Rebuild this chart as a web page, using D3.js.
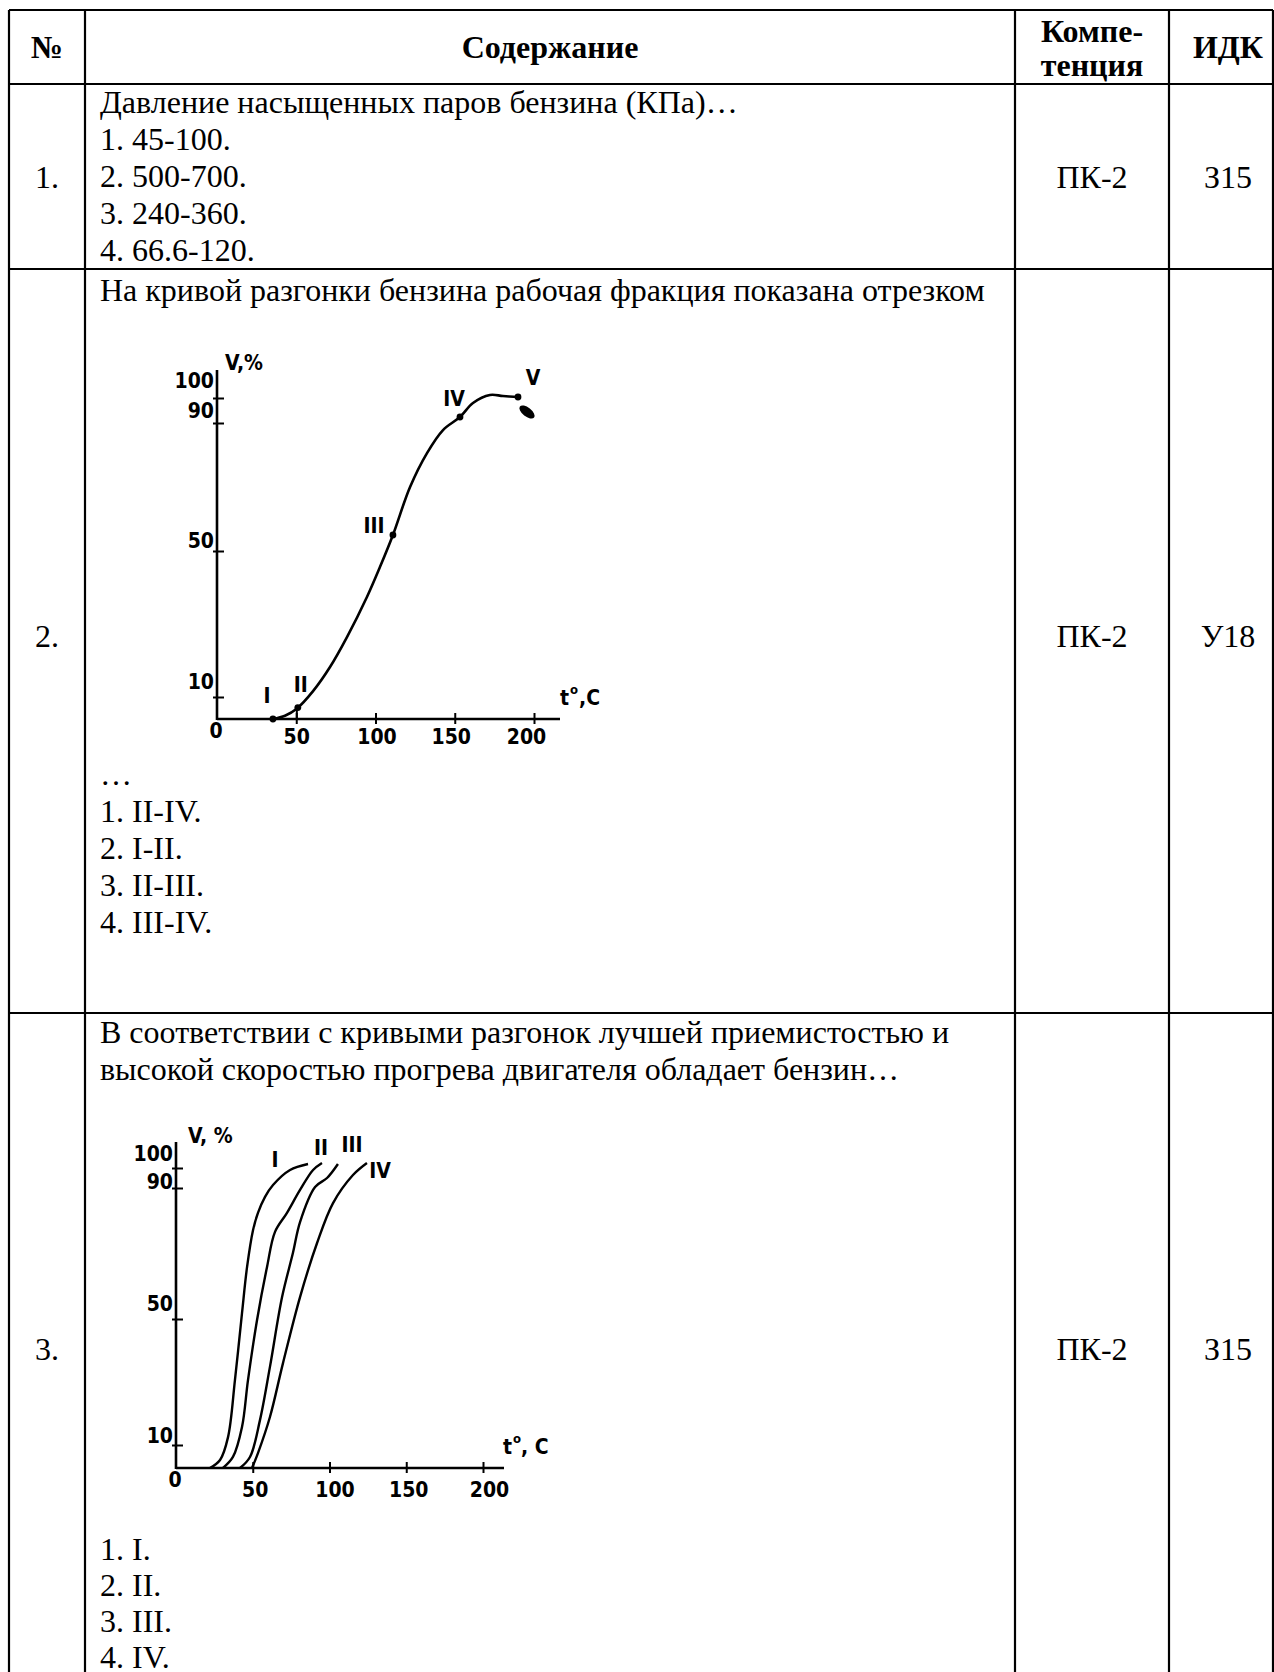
<!DOCTYPE html>
<html lang="ru">
<head>
<meta charset="utf-8">
<title>Тестовые задания</title>
<script src="https://cdn.jsdelivr.net/npm/d3@7"></script>
<style>
  body { margin: 0; background: #fff; }
  svg { display: block; }
  .txt { font-family: 'Liberation Serif', 'Times New Roman', serif; font-size: 32px; fill: #000; }
  .hdr { font-weight: bold; }
  .fig text { font-family: 'DejaVu Sans', sans-serif; font-stretch: condensed; font-weight: bold; font-size: 21px; fill: #000; }
</style>
</head>
<body>
<script>
// ---- table content ----
const headerTitles = ['№', 'Содержание', 'Компе-|тенция', 'ИДК'];
const rowNumbers = ['1.', '2.', '3.'];
const competences = ['ПК-2', 'ПК-2', 'ПК-2'];
const idkCodes = ['З15', 'У18', 'З15'];

const q1Lines = ['Давление насыщенных паров бензина (КПа)…', '1. 45-100.', '2. 500-700.', '3. 240-360.', '4. 66.6-120.'];
const q2Intro = ['На кривой разгонки бензина рабочая фракция показана отрезком'];
const q2Options = ['…', '1. II-IV.', '2. I-II.', '3. II-III.', '4. III-IV.'];
const q3Intro = ['В соответствии с кривыми разгонок лучшей приемистостью и', 'высокой скоростью прогрева двигателя обладает бензин…'];
const q3Options = ['1. I.', '2. II.', '3. III.', '4. IV.'];

// ---- chart data: [t, °C ; V, %] ----
const xTickValues = [50, 100, 150, 200];
const yTickValues = [10, 50, 90, 100];

const distCurve = [[35.3, 0], [42.9, 1.5], [50.5, 4.8], [60.6, 11.6], [71.3, 18.2], [82.0, 26.4],
  [94.6, 37.4], [102.8, 45.6], [111.0, 55], [121.8, 70], [132.5, 80.6], [142.6, 87.8], [153.3, 92.4],
  [161.5, 98], [172.2, 101.2], [180.4, 100.8], [189.9, 100.4]];
const distPointNames = ['I', 'II', 'III', 'IV', 'V'];
const distPoints = [[35.3, 0], [51, 5.2], [111, 55], [153.3, 92.4], [189.9, 100.4]];

const curveI = [[22.1, 0], [28.7, 3.5], [33.9, 12.5], [38.4, 30.6], [43.0, 51.8], [46.3, 65.9], [50.2, 77.2],
  [53.4, 82.4], [58.0, 87.3], [63.2, 91.5], [74.3, 99], [86.0, 102]];
const curveII = [[30.6, 0], [37.1, 4.8], [43.0, 15.7], [46.9, 30.6], [52.8, 49.7], [59.3, 65.9], [64.5, 76.6],
  [72.3, 82.4], [80.8, 89.4], [89.3, 99], [95.1, 102.5]];
const curveIII = [[41.7, 0], [48.2, 4.8], [54.7, 17.9], [61.2, 34.8], [69.1, 56.7], [76.2, 70.2], [80.8, 79.6],
  [90.6, 90.5], [98.4, 95], [105.5, 102]];
const curveIV = [[49.5, 0], [53.4, 6.5], [61.2, 18.9], [69.7, 36], [80.8, 56.7], [91.9, 73.2], [102.3, 85.4],
  [115.3, 96.5], [124.4, 102.5]];
const gasolineNames = ['I', 'II', 'III', 'IV'];

// ---- page ----
const W = 1274, H = 1672;
const svg = d3.select('body').append('svg').attr('width', W).attr('height', H);
svg.append('rect').attr('width', W).attr('height', H).attr('fill', '#fff');

const colX = [9, 85, 1015, 1169, 1273];
const rowY = [10, 84, 269, 1013];
const colMid = [47, 550, 1092, 1228];
const textX = 100;
const lh = 37;

function lines(arr, x, y0, step, cls, anchor) {
  svg.append('g').selectAll('text').data(arr).join('text')
    .attr('class', cls).attr('x', x).attr('y', (d, i) => y0 + i * step)
    .attr('text-anchor', anchor || 'start').text(d => d);
}

// header
headerTitles.forEach((t, i) => {
  const parts = t.split('|');
  if (parts.length > 1) lines(parts, colMid[i], 42, 34, 'txt hdr', 'middle');
  else lines([t], colMid[i], 58, 0, 'txt hdr', 'middle');
});

// row cells
const rowBase = [188, 647, 1360];
rowNumbers.forEach((n, i) => {
  lines([n], colMid[0], rowBase[i], 0, 'txt', 'middle');
  lines([competences[i]], colMid[2], rowBase[i], 0, 'txt', 'middle');
  lines([idkCodes[i]], colMid[3], rowBase[i], 0, 'txt', 'middle');
});

lines(q1Lines, textX, 113, lh, 'txt');
lines(q2Intro, textX, 301, lh, 'txt');
lines(q2Options, textX, 785, lh, 'txt');
lines(q3Intro, textX, 1043, lh, 'txt');
lines(q3Options, textX, 1560, 36, 'txt');

// grid
const grid = svg.append('g').attr('stroke', '#000').attr('stroke-width', 2.2);
grid.selectAll('.h').data(rowY).join('line')
  .attr('x1', colX[0]).attr('x2', colX[4]).attr('y1', d => d).attr('y2', d => d);
grid.selectAll('.v').data(colX).join('line')
  .attr('x1', d => d).attr('x2', d => d).attr('y1', rowY[0]).attr('y2', H);

// ---- charts ----
function axes(g, x, y, o) {
  const x0 = x(0), y0 = y(0);
  g.append('line').attr('x1', x0).attr('x2', x.range()[1] + o.xExt).attr('y1', y0).attr('y2', y0)
    .attr('stroke', '#000').attr('stroke-width', 2.6);
  g.append('line').attr('x1', x0).attr('x2', x0).attr('y1', y0 + 1).attr('y2', y(100) - o.yExt)
    .attr('stroke', '#000').attr('stroke-width', 2.6);

  const gx = g.append('g').attr('transform', `translate(0,${y0})`)
    .call(d3.axisBottom(x).tickValues(xTickValues).tickSize(0).tickFormat(d3.format('d')));
  gx.select('.domain').remove();
  gx.selectAll('.tick line').attr('y1', -6).attr('y2', 5).attr('stroke-width', 2);
  gx.selectAll('.tick text').attr('dy', null).attr('y', o.xLab).attr('dx', (d, i) => o.xLabDx[i]);

  const gy = g.append('g').attr('transform', `translate(${x0},0)`)
    .call(d3.axisLeft(y).tickValues(yTickValues).tickSize(0));
  gy.select('.domain').remove();
  gy.selectAll('.tick line').attr('x1', -4).attr('x2', 7).attr('stroke-width', 2);
  gy.selectAll('.tick text').attr('dy', null).attr('x', -3).attr('y', (d, i) => o.yLab[i]);

  g.append('text').attr('x', x0 - 1).attr('y', y0 + 19).attr('text-anchor', 'middle').text('0');
  g.append('text').attr('x', x0 + o.vDx).attr('y', y(100) - o.yExt + o.vDy).text(o.vText);
  const tc = g.append('text').attr('x', x(200) + o.tDx).attr('y', y0 - 14);
  tc.append('tspan').text('t');
  tc.append('tspan').attr('dy', -11).attr('dx', 1).style('font-size', '13px').text('o');
  tc.append('tspan').attr('dy', 11).attr('dx', o.cDx).text(o.cText);
}

const line = (x, y) => d3.line().x(d => x(d[0])).y(d => y(d[1])).curve(d3.curveCatmullRom.alpha(0.5));

// chart in question 2
{
  const x = d3.scaleLinear().domain([0, 200]).range([217, 534]);
  const y = d3.scaleLinear().domain([0, ...yTickValues]).range([719, 697, 551, 423, 398]);
  const g = svg.append('g').attr('class', 'fig');
  axes(g, x, y, { xExt: 26, yExt: 28, xLab: 25, xLabDx: [0, 1, -4, -8], yLab: [-9, -4, -6, -11],
    vDx: 8, vDy: 0, vText: 'V,%', tDx: 26, cDx: 1, cText: ',C' });

  g.append('path').datum(distCurve).attr('d', line(x, y))
    .attr('fill', 'none').attr('stroke', '#000').attr('stroke-width', 2.6).attr('stroke-linejoin', 'round');

  const ii = distPoints[1];
  g.append('line').attr('x1', x(ii[0]) - 1).attr('x2', x(ii[0]) - 1).attr('y1', y(0)).attr('y2', y(ii[1]))
    .attr('stroke', '#000').attr('stroke-width', 2);
  g.selectAll('circle').data(distPoints).join('circle')
    .attr('cx', d => x(d[0])).attr('cy', d => y(d[1])).attr('r', 3.4).attr('fill', '#000');

  const off = [[-6, -16], [3, -16], [-19, -2], [-6, -11], [15, -12]];
  g.selectAll('.pl').data(distPoints).join('text')
    .attr('x', (d, i) => x(d[0]) + off[i][0]).attr('y', (d, i) => y(d[1]) + off[i][1])
    .attr('text-anchor', 'middle').text((d, i) => distPointNames[i]);

  const v = distPoints[4];
  g.append('ellipse').attr('cx', 0).attr('cy', 0).attr('rx', 9).attr('ry', 4.5)
    .attr('transform', `translate(${x(v[0]) + 9},${y(v[1]) + 15}) rotate(38)`).attr('fill', '#000');
}

// chart in question 3
{
  const x = d3.scaleLinear().domain([0, 200]).range([176, 483]);
  const y = d3.scaleLinear().domain([0, ...yTickValues]).range([1468, 1445, 1319, 1188, 1168]);
  const g = svg.append('g').attr('class', 'fig');
  axes(g, x, y, { xExt: 21, yExt: 26, xLab: 29, xLabDx: [2, 5, 2, 6], yLab: [-3, -9, 0, -8],
    vDx: 12, vDy: 1, vText: 'V, %', tDx: 20, cDx: 0, cText: ', C' });

  const curves = [curveI, curveII, curveIII, curveIV];
  g.selectAll('path.c').data(curves).join('path').attr('class', 'c')
    .attr('d', line(x, y)).attr('fill', 'none').attr('stroke', '#000').attr('stroke-width', 2.4)
    .attr('stroke-linejoin', 'round');

  const off = [[-33, 3], [-1, -8], [14, -12], [13, 15]];
  g.selectAll('.cl').data(curves).join('text')
    .attr('x', (d, i) => x(d[d.length - 1][0]) + off[i][0])
    .attr('y', (d, i) => y(d[d.length - 1][1]) + off[i][1])
    .attr('text-anchor', 'middle').text((d, i) => gasolineNames[i]);
}
</script>
</body>
</html>
